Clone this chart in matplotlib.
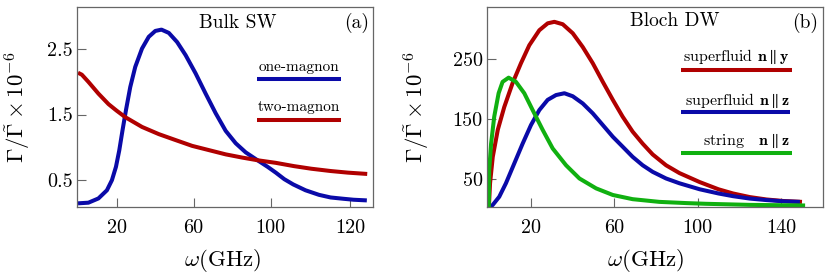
import matplotlib
matplotlib.use("Agg")
import matplotlib.pyplot as plt

plt.rcParams['font.family'] = 'serif'
plt.rcParams['font.serif'] = ['cmr10', 'DejaVu Serif']
plt.rcParams['mathtext.fontset'] = 'cm'
plt.rcParams['axes.unicode_minus'] = False
plt.rcParams['lines.solid_joinstyle'] = 'round'
plt.rcParams['lines.solid_capstyle'] = 'butt'

# (a) Bulk SW
w_one = [0, 5.4, 10.6, 15.0, 17.6, 19.7, 21.4, 23.1, 24.9, 27.1, 29.7, 33.2, 36.7, 40.1,
         43.3, 47.1, 51.4, 55.8, 61, 66.2, 71.4, 76.6, 81.8, 87, 93.1, 98.3, 102.6, 107,
         111.6, 118, 125, 131, 137.6, 143, 149.8]
g_one = [0.14, 0.15, 0.215, 0.34, 0.495, 0.70, 0.95, 1.26, 1.57, 1.92, 2.23, 2.51, 2.69,
         2.78, 2.80, 2.75, 2.61, 2.41, 2.13, 1.82, 1.52, 1.25, 1.06, 0.92, 0.80, 0.70,
         0.61, 0.51, 0.43, 0.34, 0.27, 0.23, 0.21, 0.195, 0.185]
w_two = [0, 2, 5.4, 10.6, 15.8, 20, 24.5, 33.2, 41.9, 50.5, 59.2, 67.9, 76.6, 85.3, 93.1,
         102.6, 112, 121, 131, 140, 150]
g_two = [2.14, 2.11, 2.00, 1.82, 1.66, 1.56, 1.46, 1.31, 1.20, 1.11, 1.02, 0.955, 0.89,
         0.84, 0.80, 0.76, 0.71, 0.67, 0.635, 0.61, 0.59]
xt_a = [20, 60, 100, 141]
xl_a = ['20', '60', '100', '120']
yt_a = [0.5, 1.5, 2.5]

# (b) Bloch DW
w_sy = [0, 0.6, 1.9, 4.3, 7.4, 11.4, 15.4, 19.4, 24.2, 28.2, 31.4, 35.4, 40.2, 45, 49.8,
        54.6, 59.4, 64.1, 68.9, 73.7, 78.5, 84.9, 91.3, 101, 110, 117, 125, 133, 141, 150]
g_sy = [0, 43, 87, 132, 170, 210, 243, 273, 298, 309.5, 312, 308, 293, 270, 243, 212,
        182, 154, 129, 109, 91, 73, 60, 45, 33, 26, 20, 16, 13.5, 12]
w_sz = [0, 1.9, 5, 8.2, 12.2, 16.2, 20.2, 24.2, 28.2, 32.2, 36.2, 40.2, 45, 49.8, 54.6,
        59.4, 64.1, 68.9, 73.7, 78.5, 84.9, 91.3, 101, 110, 117, 125, 133, 141, 149]
g_sz = [0, 7, 20.5, 43, 76, 109, 140, 165, 182, 190, 193, 188, 176, 159.5, 140, 120.5,
        104, 87, 73, 62, 51, 43, 33, 26, 21.5, 17.5, 15, 13, 12]
w_st = [0, 0.2, 1.1, 2.6, 4.7, 6.6, 9.5, 13, 17, 21, 25.8, 30.6, 37, 43.4, 51.4, 59.4,
        68.9, 81.7, 94.5, 104, 125, 151.5]
g_st = [0, 65, 109, 154, 193, 212, 219, 212, 193, 165, 132, 101, 73, 51, 34.5, 23.5, 16.5,
        12, 10, 8.8, 7, 6]
xt_b = [20, 60, 100, 140]
yt_b = [50, 150, 250]

blue = '#0a0aa8'
red = '#b00000'
green = '#10b010'
lw = 2.9

fig = plt.figure(figsize=(8.3, 2.75), dpi=100)
ax1 = fig.add_axes([0.0928, 0.248, 0.3566, 0.725])
ax2 = fig.add_axes([0.5864, 0.248, 0.4055, 0.725])

for ax in (ax1, ax2):
    for s in ax.spines.values():
        s.set_color('#666666')
        s.set_linewidth(0.9)
    ax.tick_params(direction='in', length=6.5, width=0.8, color='#666666',
                   labelsize=14.5)
    ax.tick_params(axis='x', pad=9)
    ax.tick_params(axis='y', pad=3)
    ax.set_xlabel(r'$\omega(\mathrm{GHz})$', fontsize=16.5)
    ax.set_ylabel(r'$\Gamma/\tilde{\Gamma}\times10^{-6}$', fontsize=16.5)

ax1.plot(w_one, g_one, color=blue, lw=lw)
ax1.plot(w_two, g_two, color=red, lw=lw)
ax1.set_xlim(-0.5, 153)
ax1.set_ylim(0.087, 3.14)
ax1.set_xticks(xt_a)
ax1.set_xticklabels(xl_a)
ax1.set_yticks(yt_a)
ax1.set_yticklabels([str(v) for v in yt_a])
ax1.xaxis.set_label_coords(0.493, -0.20)
ax1.yaxis.set_label_coords(-0.152, 0.5)

ax1.text(0.544, 0.92, 'Bulk SW', transform=ax1.transAxes, ha='center', va='center', fontsize=14)
ax1.text(0.943, 0.92, '(a)', transform=ax1.transAxes, ha='center', va='center', fontsize=14)
ax1.text(0.75, 0.70, 'one-magnon', transform=ax1.transAxes, ha='center', va='center', fontsize=11)
ax1.plot([0.608, 0.892], [0.64, 0.64], transform=ax1.transAxes, color=blue, lw=lw)
ax1.text(0.75, 0.50, 'two-magnon', transform=ax1.transAxes, ha='center', va='center', fontsize=11)
ax1.plot([0.608, 0.892], [0.435, 0.435], transform=ax1.transAxes, color=red, lw=lw)

ax2.plot(w_sy, g_sy, color=red, lw=lw)
ax2.plot(w_sz, g_sz, color=blue, lw=lw)
ax2.plot(w_st, g_st, color=green, lw=lw)
ax2.set_xlim(-1, 160.2)
ax2.set_ylim(3.8, 336)
ax2.set_xticks(xt_b)
ax2.set_xticklabels([str(v) for v in xt_b])
ax2.set_yticks(yt_b)
ax2.set_yticklabels([str(v) for v in yt_b])
ax2.xaxis.set_label_coords(0.473, -0.20)
ax2.yaxis.set_label_coords(-0.167, 0.5)

ax2.text(0.559, 0.93, 'Bloch DW', transform=ax2.transAxes, ha='center', va='center', fontsize=14)
ax2.text(0.946, 0.92, '(b)', transform=ax2.transAxes, ha='center', va='center', fontsize=14)
ax2.text(0.902, 0.75, r'superfluid $\mathbf{n}\parallel\mathbf{y}$', transform=ax2.transAxes,
         ha='right', va='center', fontsize=11.5)
ax2.plot([0.577, 0.907], [0.686, 0.686], transform=ax2.transAxes, color=red, lw=lw)
ax2.text(0.902, 0.53, r'superfluid $\mathbf{n}\parallel\mathbf{z}$', transform=ax2.transAxes,
         ha='right', va='center', fontsize=11.5)
ax2.plot([0.577, 0.901], [0.475, 0.475], transform=ax2.transAxes, color=blue, lw=lw)
ax2.text(0.902, 0.33, r'string   $\mathbf{n}\parallel\mathbf{z}$', transform=ax2.transAxes,
         ha='right', va='center', fontsize=11.5)
ax2.plot([0.577, 0.907], [0.27, 0.27], transform=ax2.transAxes, color=green, lw=lw)

fig.savefig('out.png', dpi=100)
